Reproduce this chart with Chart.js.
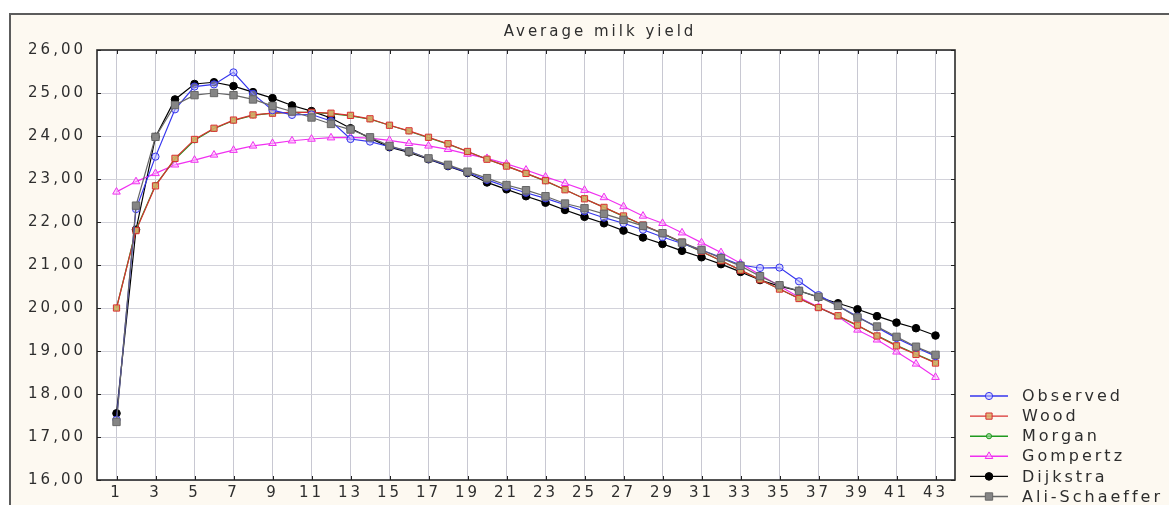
<!DOCTYPE html>
<html><head><meta charset="utf-8">
<script src="https://cdn.jsdelivr.net/npm/chart.js@4.4.0/dist/chart.umd.min.js"></script>
<style>html,body{margin:0;padding:0;background:#fff;}canvas{display:block;}</style>
</head><body>
<canvas id="c" width="1169" height="505"></canvas>
<script>
const chartTitle = "Average milk yield";
const xTicks = [1,3,5,7,9,11,13,15,17,19,21,23,25,27,29,31,33,35,37,39,41,43];
const weeks = Array.from({length:43},(_,i)=>i+1);
const seriesNames = ["Observed","Wood","Morgan","Gompertz","Dijkstra","Ali-Schaeffer"];

const observed = [17.40,22.30,23.52,24.62,25.15,25.20,25.48,24.98,24.60,24.49,24.50,24.35,23.93,23.87,23.75,23.65,23.47,23.31,23.15,22.98,22.82,22.68,22.55,22.40,22.25,22.10,21.97,21.82,21.65,21.50,21.35,21.18,21.00,20.93,20.94,20.62,20.30,20.05,19.80,19.55,19.30,19.08,18.88];
const wood = [20.00,21.80,22.84,23.48,23.92,24.18,24.37,24.49,24.53,24.55,24.55,24.53,24.48,24.40,24.25,24.12,23.97,23.82,23.64,23.46,23.30,23.13,22.96,22.75,22.54,22.34,22.14,21.93,21.74,21.53,21.32,21.10,20.88,20.66,20.44,20.22,20.01,19.82,19.60,19.35,19.12,18.92,18.72];
const morgan = [20.00,21.82,22.86,23.46,23.90,24.17,24.36,24.48,24.53,24.55,24.55,24.52,24.47,24.39,24.25,24.11,23.96,23.81,23.64,23.46,23.30,23.13,22.95,22.75,22.54,22.34,22.13,21.93,21.73,21.52,21.31,21.10,20.88,20.66,20.44,20.22,20.01,19.81,19.59,19.36,19.13,18.93,18.73];
const gompertz = [22.70,22.94,23.13,23.33,23.44,23.56,23.67,23.77,23.83,23.89,23.93,23.96,23.97,23.95,23.90,23.83,23.77,23.69,23.58,23.48,23.35,23.21,23.05,22.90,22.74,22.57,22.36,22.14,21.97,21.75,21.52,21.29,21.04,20.77,20.51,20.25,20.02,19.80,19.49,19.26,18.98,18.70,18.39];
const dijkstra = [17.55,21.82,23.98,24.85,25.21,25.25,25.16,25.02,24.88,24.71,24.58,24.42,24.18,23.95,23.74,23.62,23.46,23.30,23.14,22.92,22.76,22.60,22.45,22.28,22.12,21.97,21.80,21.64,21.49,21.33,21.18,21.02,20.84,20.65,20.51,20.40,20.25,20.11,19.97,19.81,19.66,19.53,19.36];
const aliSchaeffer = [17.35,22.38,23.98,24.72,24.95,25.00,24.95,24.85,24.70,24.57,24.43,24.28,24.15,23.97,23.77,23.64,23.48,23.33,23.17,23.02,22.86,22.74,22.60,22.43,22.32,22.19,22.05,21.91,21.74,21.52,21.35,21.16,20.98,20.74,20.53,20.40,20.26,20.05,19.78,19.57,19.33,19.10,18.91];

const seriesValues = [observed, wood, morgan, gompertz, dijkstra, aliSchaeffer];
const styles = [
  {c:'#3535ee', ps:'circle', r:3.6, bg:'rgba(190,190,255,0.55)', order:1},
  {c:'#d83030', ps:'rect', r:4.4, bg:'rgba(215,175,105,0.85)', order:2},
  {c:'#1f9a1f', ps:'circle', r:2.6, bg:'rgba(140,210,140,0.7)', order:3},
  {c:'#f030f0', ps:'triangle', r:4.4, bg:'rgba(255,190,255,0.55)', order:4},
  {c:'#000000', ps:'circle', r:3.8, bg:'#000000', order:5},
  {c:'#666666', ps:'rect', r:5.2, bg:'#858585', order:0}
];

const datasets = seriesNames.map((name,i)=>({
  label:name,
  data: seriesValues[i].map((v,k)=>({x:weeks[k], y:v})),
  borderColor: styles[i].c,
  backgroundColor: styles[i].bg,
  borderWidth: 1.2,
  pointStyle: styles[i].ps,
  pointRadius: styles[i].r,
  pointBorderWidth: 1,
  pointBorderColor: styles[i].c,
  pointBackgroundColor: styles[i].bg,
  tension: 0,
  order: styles[i].order
}));

const FONT = '"DejaVu Sans", Verdana, sans-serif';
const TXT = '#2e2e2e';

const framePlugin = {
  id:'frame',
  beforeDraw(chart){
    const ctx = chart.ctx, a = chart.chartArea, W = chart.width, H = chart.height;
    ctx.save();
    ctx.fillStyle = '#ffffff'; ctx.fillRect(0,0,W,H);
    ctx.fillStyle = '#fdf9f1'; ctx.fillRect(10,14,W-10,H-14);
    ctx.strokeStyle = '#5c5c5c'; ctx.lineWidth = 2;
    ctx.beginPath(); ctx.moveTo(10,H); ctx.lineTo(10,14); ctx.lineTo(W,14); ctx.stroke();
    ctx.fillStyle = '#ffffff'; ctx.fillRect(a.left,a.top,a.right-a.left,a.bottom-a.top);
    ctx.restore();
    ctx.letterSpacing = '3px';
  },
  beforeDatasetsDraw(chart){
    const ctx = chart.ctx, a = chart.chartArea;
    const xs = chart.scales.x, ys = chart.scales.y;
    ctx.save();
    ctx.strokeStyle = '#2a2a2a'; ctx.lineWidth = 1.6;
    ctx.strokeRect(a.left, a.top, a.right-a.left, a.bottom-a.top);
    ctx.lineWidth = 1; ctx.strokeStyle = '#222';
    ctx.beginPath();
    xTicks.forEach(v=>{
      const px = Math.round(xs.getPixelForValue(v))+0.5;
      ctx.moveTo(px,a.top); ctx.lineTo(px,a.top+4);
      ctx.moveTo(px,a.bottom); ctx.lineTo(px,a.bottom-4);
    });
    ys.ticks.forEach(t=>{
      const py = Math.round(ys.getPixelForValue(t.value))+0.5;
      ctx.moveTo(a.left,py); ctx.lineTo(a.left+4,py);
      ctx.moveTo(a.right,py); ctx.lineTo(a.right-4,py);
    });
    ctx.stroke();
    ctx.restore();
  },
  afterDraw(chart){
    const ctx = chart.ctx;
    ctx.save();
    ctx.letterSpacing = '3px';
    ctx.fillStyle = TXT;
    ctx.font = '15px ' + FONT;
    ctx.textAlign = 'center'; ctx.textBaseline = 'middle';
    ctx.fillText(chartTitle, 600, 32);
    ctx.textAlign = 'left';
    ctx.font = '16px ' + FONT;
    ctx.letterSpacing = '3px';
    chart.data.datasets.forEach((ds,i)=>{
      const y = 396 + i*20.1;
      ctx.strokeStyle = ds.borderColor; ctx.lineWidth = 1.4;
      ctx.beginPath(); ctx.moveTo(970,y); ctx.lineTo(1008,y); ctx.stroke();
      ctx.fillStyle = ds.pointBackgroundColor; ctx.strokeStyle = ds.pointBorderColor; ctx.lineWidth = 1;
      Chart.helpers.drawPoint(ctx, {pointStyle: ds.pointStyle, radius: ds.pointRadius, rotation:0, borderWidth:1}, 989, y);
      ctx.fillStyle = TXT;
      ctx.fillText(ds.label, 1022, y+1);
    });
    ctx.restore();
  }
};

new Chart(document.getElementById('c'), {
  type:'line',
  data:{ datasets },
  options:{
    responsive:false, animation:false, devicePixelRatio:1,
    layout:{ padding:{ left:0, top:50, right:214, bottom:0 } },
    plugins:{ legend:{display:false}, title:{display:false}, tooltip:{enabled:false} },
    scales:{
      x:{
        type:'linear', min:0, max:44,
        afterBuildTicks:s=>{ s.ticks = xTicks.map(v=>({value:v})); },
        afterFit:s=>{ s.height = 25; },
        grid:{ color:'#c8c8d2', lineWidth:1, drawTicks:false },
        border:{ display:false },
        ticks:{ autoSkip:false, maxRotation:0, padding:4, color:TXT, font:{family:FONT, size:15}, callback:v=>String(v) }
      },
      y:{
        min:16, max:26,
        afterFit:s=>{ s.width = 97; },
        grid:{ color:'#d2d2da', lineWidth:1, drawTicks:false },
        border:{ display:false },
        ticks:{ stepSize:1, padding:11, color:TXT, font:{family:FONT, size:15}, callback:v=>Number(v).toFixed(2).replace('.',',') }
      }
    }
  },
  plugins:[framePlugin]
});
</script>
</body></html>
